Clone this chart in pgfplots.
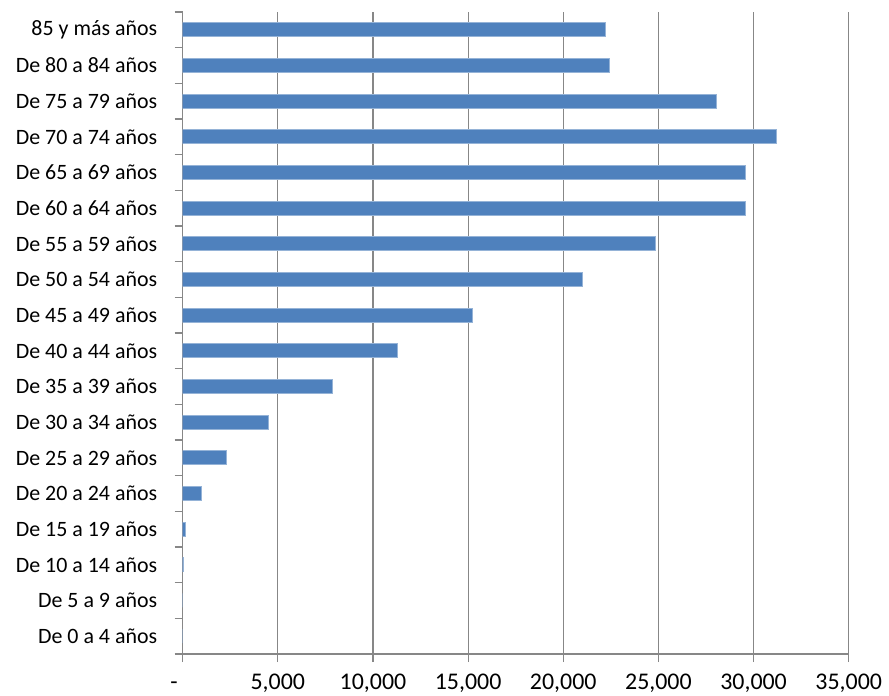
\documentclass[border=0pt]{standalone}
\usepackage{pgfplots}
\pgfplotsset{compat=1.18}
\usepackage{fontspec}
\setmainfont{Carlito}
\definecolor{barblue}{HTML}{4F81BD}
\definecolor{axgray}{HTML}{878787}

\begin{document}
\begin{tikzpicture}
\begin{axis}[
    name=ax,
    xbar, bar width=14bp, bar shift=0pt,
    scale only axis, width=666bp, height=642bp,
    xmin=0, xmax=35000, ymin=-0.5, ymax=17.5,
    scaled x ticks=false,
    axis x line*=bottom, axis y line*=left,
    axis line style={axgray, line width=1.1bp},
    xtick={0,5000,...,35000},
    xticklabels={{\makebox[0pt][r]{-\hspace{5bp}}\vphantom{0,}},{5,000},{10,000},{15,000},{20,000},{25,000},{30,000},{35,000}},
    xmajorgrids, grid style={axgray, line width=1.1bp},
    ytick={0,...,17},
    yticklabels={De 0 a 4 años, De 5 a 9 años, De 10 a 14 años, De 15 a 19 años,
        De 20 a 24 años, De 25 a 29 años, De 30 a 34 años, De 35 a 39 años,
        De 40 a 44 años, De 45 a 49 años, De 50 a 54 años, De 55 a 59 años,
        De 60 a 64 años, De 65 a 69 años, De 70 a 74 años, De 75 a 79 años,
        De 80 a 84 años, 85 y más años},
    major y tick style={draw=none},
    minor ytick={-0.5,0.5,...,17.5},
    tick align=outside, major tick length=8bp, minor tick length=8bp,
    tick style={axgray, line width=1.1bp},
    x tick label style={font=\fontsize{24}{28}\selectfont, inner sep=0pt, yshift=-12bp},
    y tick label style={font=\fontsize{22}{26}\selectfont, anchor=east, xshift=-14bp},
]
\addplot[fill=barblue, draw=barblue!60!white, line width=0.8bp] coordinates {
    (0,0) (0,1) (30,2) (137,3) (962,4) (2276,5) (4500,6) (7846,7)
    (11278,8) (15219,9) (20984,10) (24857,11) (29560,12) (29586,13)
    (31216,14) (28063,15) (22420,16) (22210,17)};
\end{axis}
\path ([shift={(-182.7bp,-42bp)}]ax.south west) rectangle ([shift={(40.3bp,12bp)}]ax.north east);
\end{tikzpicture}
\end{document}
